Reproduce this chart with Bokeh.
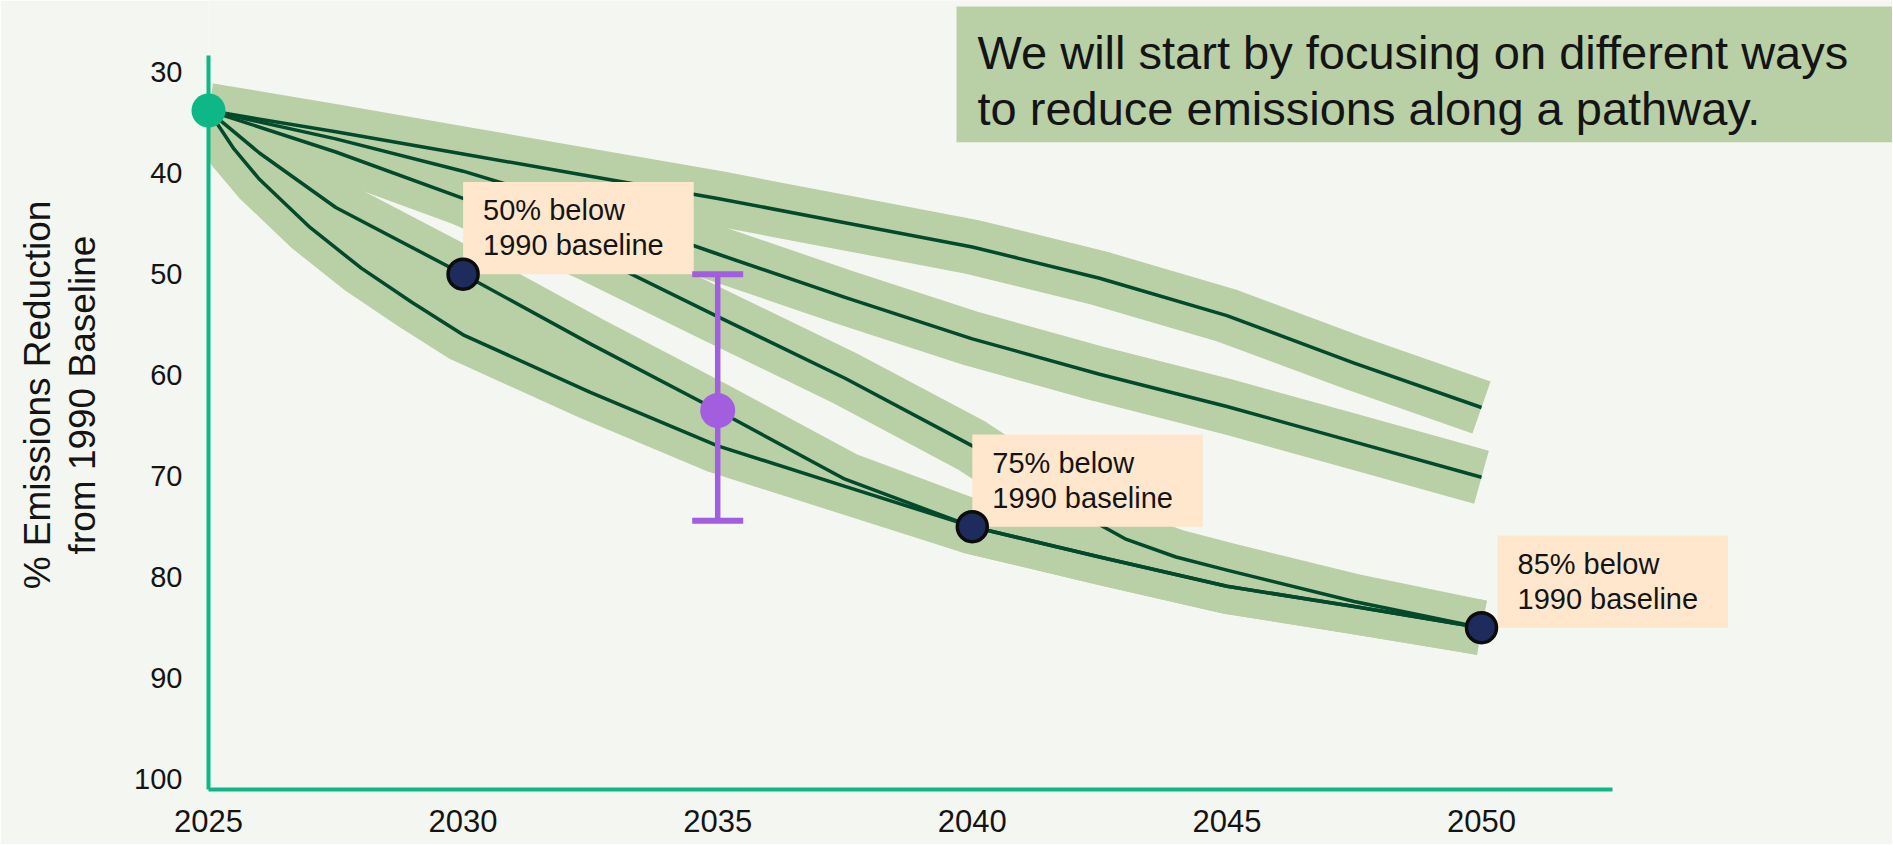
from bokeh.plotting import figure
from bokeh.models import Range1d, FixedTicker, Label
from bokeh.embed import file_html
from bokeh.resources import INLINE

# ---------------- data ----------------
x_ticks = [2025, 2030, 2035, 2040, 2045, 2050]
y_ticks = [30, 40, 50, 60, 70, 80, 90, 100]

start_year = [2025]
start_value = [33.8]

years_a = [2025, 2027.5, 2030, 2032.5, 2035, 2037.5, 2040, 2042.5, 2045, 2047.5, 2050]
path_a = [33.8, 35.9, 38.1, 40.3, 42.5, 44.9, 47.3, 50.4, 54.1, 58.8, 63.2]

years_b = [2025, 2027.5, 2030, 2032.5, 2035, 2037.5, 2040, 2042.5, 2045, 2047.5, 2050]
path_b = [33.8, 36.6, 39.8, 43.6, 48.0, 52.3, 56.4, 59.9, 63.1, 66.6, 70.1]

years_c = [2025, 2027.5, 2030, 2032.5, 2035, 2037.5, 2040, 2041, 2042, 2043, 2044, 2045, 2047.5, 2050]
path_c = [33.8, 37.9, 42.5, 48.0, 54.2, 60.3, 67.0, 70.3, 73.4, 76.2, 78.0, 79.3, 82.4, 85.0]

years_d = [2025, 2026, 2027.5, 2030, 2032.5, 2035, 2037.5, 2040, 2042.5, 2045, 2047.5, 2050]
path_d = [33.8, 38.0, 43.4, 50.0, 56.9, 63.5, 70.3, 75.0, 78.0, 80.9, 82.9, 85.0]

years_e = [2025, 2025.5, 2026, 2027, 2028, 2029, 2030, 2032.5, 2035, 2037.5, 2040, 2042.5, 2045, 2047.5, 2050]
path_e = [33.8, 37.6, 40.6, 45.4, 49.4, 52.8, 56.0, 61.7, 67.0, 71.0, 75.0, 78.0, 80.9, 82.9, 85.0]

target_years = [2030, 2040, 2050]
target_values = [50, 75, 85]
target_labels = ["50% below\n1990 baseline", "75% below\n1990 baseline", "85% below\n1990 baseline"]

range_year = [2035]
range_mid = [63.5]
range_low = [50.0]
range_high = [74.4]

title_text = "We will start by focusing on different ways\nto reduce emissions along a pathway."
y_title = "% Emissions Reduction\nfrom 1990 Baseline"

# ---------------- styling / layout ----------------
BG = "#f4f6f1"
BAND = "#b9cfa5"
DARK = "#03492c"
TEAL = "#0db886"
NAVY = "#1d2c5c"
PURPLE = "#a35ddf"
PEACH = "#ffe7cd"
INK = "#141414"
FONT = "Liberation Sans"

W, H = 1892, 844
LEFT, FRAME_BOTTOM = 208, 789          # pixel position of the two axis lines
PX_PER_YEAR = 50.92
PX_PER_UNIT = 10.1
Y30_PX = 71.7                          # pixel row of the value 30


def val_at(py):
    return 30 + (py - Y30_PX) / PX_PER_UNIT


def year_at(px):
    return 2025 + (px - LEFT) / PX_PER_YEAR


p = figure(width=W, height=H, output_backend="svg", toolbar_location=None,
           x_range=Range1d(2025, year_at(W)), y_range=Range1d(val_at(FRAME_BOTTOM), val_at(0)),
           min_border_left=LEFT, min_border_right=0, min_border_top=0,
           min_border_bottom=H - FRAME_BOTTOM, background_fill_color=BG, border_fill_color=BG,
           outline_line_color=None)
p.grid.visible = False

for ax in (p.xaxis[0], p.yaxis[0]):
    ax.axis_line_color = TEAL
    ax.axis_line_width = 4
    ax.major_tick_line_color = None
    ax.minor_tick_line_color = None
    ax.major_tick_out = 0
    ax.major_tick_in = 0
    ax.minor_tick_out = 0
    ax.minor_tick_in = 0
    ax.major_label_text_font = FONT
    ax.major_label_text_color = INK

xa = p.xaxis[0]
xa.ticker = FixedTicker(ticks=x_ticks)
xa.bounds = (2025, year_at(1612))
xa.major_label_text_font_size = "31px"
xa.major_label_standoff = 20

ya = p.yaxis[0]
ya.ticker = FixedTicker(ticks=y_ticks)
ya.bounds = (val_at(55), val_at(FRAME_BOTTOM))
ya.major_label_text_font_size = "29px"
ya.major_label_standoff = 26
ya.axis_label = y_title
ya.axis_label_text_font = FONT
ya.axis_label_text_font_size = "37px"
ya.axis_label_text_font_style = "normal"
ya.axis_label_text_color = INK
ya.axis_label_text_line_height = 1.09
ya.axis_label_standoff = 28

series = [(years_a, path_a), (years_b, path_b), (years_c, path_c), (years_d, path_d), (years_e, path_e)]

# wide pale bands
for xs, ys in series:
    p.line(xs, ys, line_color=BAND, line_width=55, line_cap="butt", line_join="round")
# dark centre lines
for xs, ys in series:
    p.line(xs, ys, line_color=DARK, line_width=3.5, line_join="round")

# annotation boxes anchored at the target points
offsets = [0, 0, 16]
for xv, yv, txt, off in zip(target_years, target_values, target_labels, offsets):
    p.add_layout(Label(x=xv, y=yv, text=txt, anchor="bottom_left", x_offset=off,
                       text_font=FONT, text_font_size="29px", text_color=INK,
                       text_line_height=1.1, text_align="left",
                       background_fill_color=PEACH,
                       padding=dict(left=20, right=30, top=12, bottom=13)))

# range bar (2035)
ebar = p.segment(x0=range_year, y0=range_low, x1=range_year, y1=range_high,
                 line_color=PURPLE, line_width=5.5)
caps = p.scatter(range_year * 2, range_low + range_high, marker="dash", size=51,
                 line_color=PURPLE, line_width=6)

# points on top
r1 = p.scatter(range_year, range_mid, size=35, fill_color=PURPLE, line_color=None)
r2 = p.scatter(target_years, target_values, size=30, fill_color=NAVY, line_color="#0c0c0c", line_width=3.5)
r3 = p.scatter(start_year, start_value, size=34, fill_color=TEAL, line_color=None)
for r in (ebar, caps, r1, r2, r3):
    r.level = "overlay"

# headline box (top right)
p.add_layout(Label(x=year_at(956), y=val_at(6), text=title_text, anchor="top_left",
                   text_font=FONT, text_font_size="47px", text_color=INK,
                   text_line_height=1.07, text_align="left",
                   background_fill_color=BAND,
                   padding=dict(left=21, right=62, top=19, bottom=7)))

open("out.html", "w").write(file_html(p, INLINE))
